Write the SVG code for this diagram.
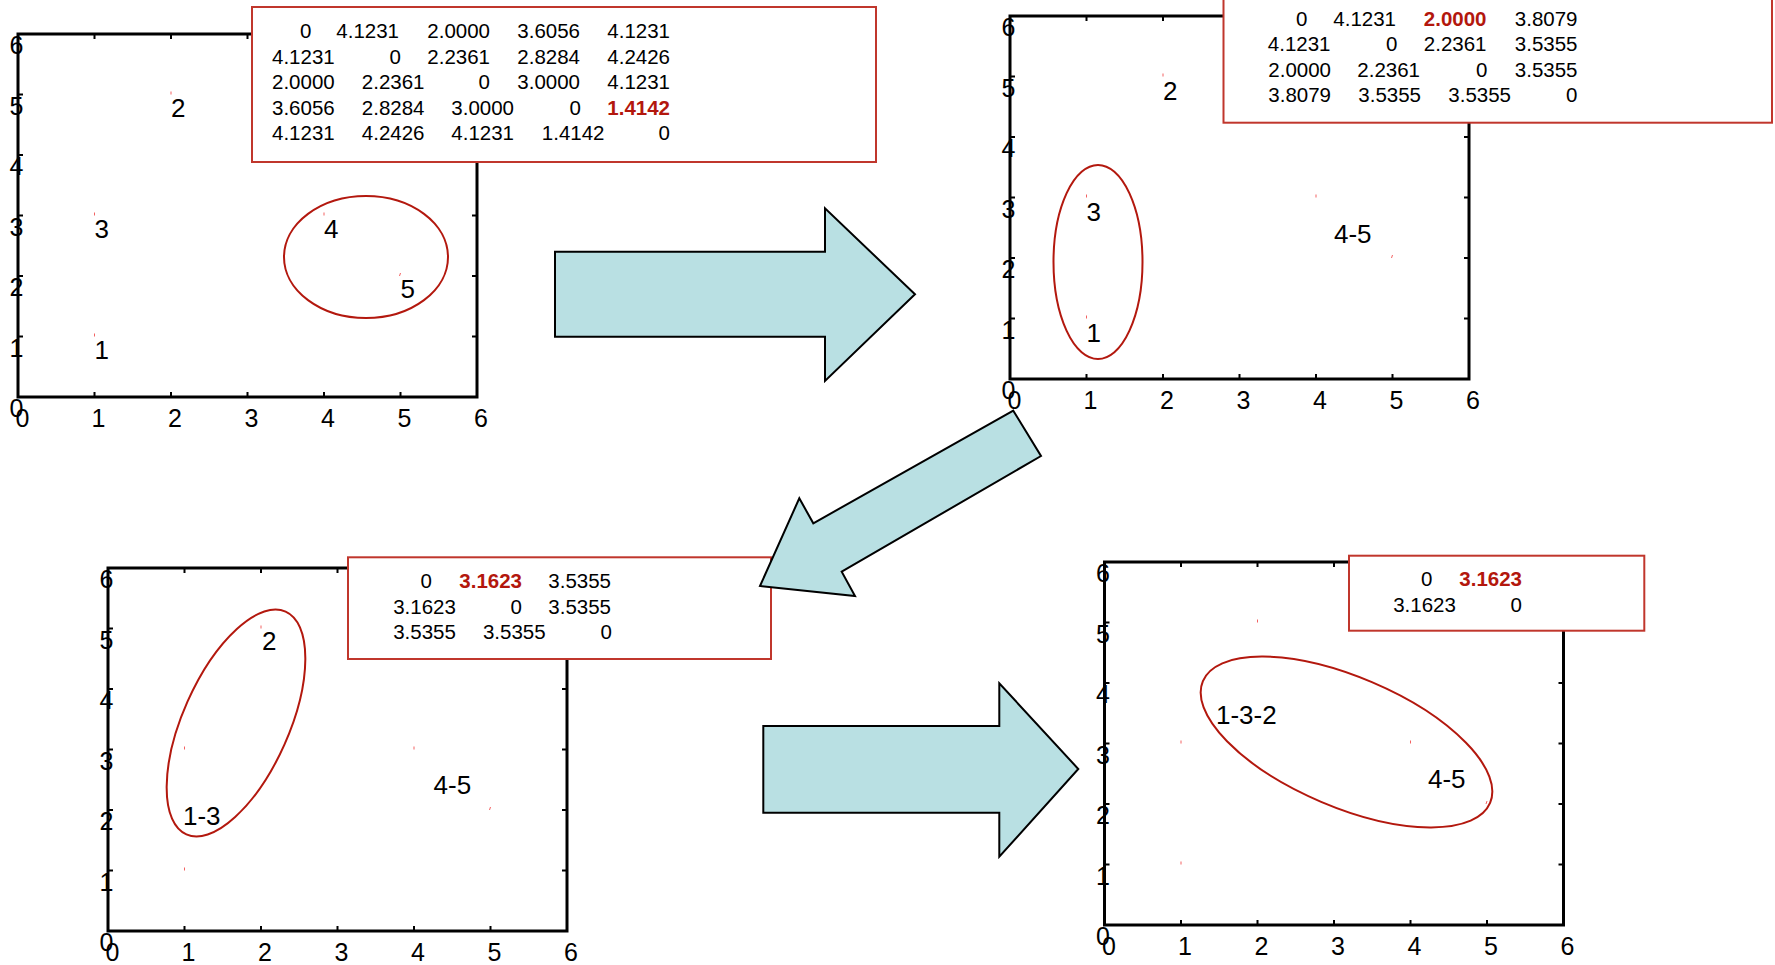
<svg xmlns="http://www.w3.org/2000/svg" xmlns:xlink="http://www.w3.org/1999/xlink" width="1775" height="965" viewBox="0 0 1775 965">
<style>
text{font-family:"Liberation Sans",Arial,sans-serif;fill:#000}
.ax{font-size:25px;text-anchor:middle}
.lbl{font-size:26px}
.frame{fill:none;stroke:#000;stroke-width:3}
.tick{fill:none;stroke:#000;stroke-width:2}
.pt{fill:none;stroke:#f03a3a;stroke-width:1;opacity:.8}
.ell{fill:none;stroke:#b3180e;stroke-width:2}
.box{fill:#fff;stroke:#c0362c;stroke-width:2}
.m{font-size:20.5px;text-anchor:end}
.hl{font-weight:bold;fill:#b3170d}
.arrow{fill:#b9e0e3;stroke:#000;stroke-width:2;stroke-linejoin:miter}
</style>
<defs>
<g id="axes">
<text class="ax" x="-1.5" y="383">0</text>
<text class="ax" x="-1.5" y="322.5">1</text>
<text class="ax" x="-1.5" y="262">2</text>
<text class="ax" x="-1.5" y="201.5">3</text>
<text class="ax" x="-1.5" y="141">4</text>
<text class="ax" x="-1.5" y="80.5">5</text>
<text class="ax" x="-1.5" y="20">6</text>
<text class="ax" x="4.5" y="393">0</text>
<text class="ax" x="80.5" y="393">1</text>
<text class="ax" x="157" y="393">2</text>
<text class="ax" x="233.5" y="393">3</text>
<text class="ax" x="310" y="393">4</text>
<text class="ax" x="386.5" y="393">5</text>
<text class="ax" x="463" y="393">6</text>
<path class="tick" d="M76.5 0v5M153 0v5M229.5 0v5M306 0v5M382.5 0v5M76.5 363v-5M153 363v-5M229.5 363v-5M306 363v-5M382.5 363v-5M0 302.5h5M0 242h5M0 181.5h5M0 121h5M0 60.5h5M459 302.5h-5M459 242h-5M459 181.5h-5M459 121h-5M459 60.5h-5"/>
<rect class="frame" x="0" y="0" width="459" height="363"/>
</g>
<path id="pts" class="pt" d="M153 57.5v3M76.5 178.5v3M76.5 299.5v3M306 178.5v3M382.5 239l-1 3"/>
</defs>

<g id="panel1">
<g transform="translate(18,34)">
<use xlink:href="#axes" href="#axes"/>
<use xlink:href="#pts" href="#pts"/>
<text class="lbl" x="153" y="82.5">2</text>
<text class="lbl" x="76.5" y="203.5">3</text>
<text class="lbl" x="76.5" y="324.5">1</text>
<text class="lbl" x="306" y="203.5">4</text>
<text class="lbl" x="382.5" y="264">5</text>
<ellipse class="ell" cx="348" cy="223" rx="82" ry="61"/>
</g>
<g id="matrix1">
<rect class="box" x="252" y="7" width="624" height="155"/>
<text class="m" x="311.4" y="38">0</text><text class="m" x="399" y="38">4.1231</text><text class="m" x="490" y="38">2.0000</text><text class="m" x="580" y="38">3.6056</text><text class="m" x="670" y="38">4.1231</text>
<text class="m" x="334.7" y="63.5">4.1231</text><text class="m" x="401" y="63.5">0</text><text class="m" x="490" y="63.5">2.2361</text><text class="m" x="580" y="63.5">2.8284</text><text class="m" x="670" y="63.5">4.2426</text>
<text class="m" x="334.7" y="89">2.0000</text><text class="m" x="424.5" y="89">2.2361</text><text class="m" x="490" y="89">0</text><text class="m" x="580" y="89">3.0000</text><text class="m" x="670" y="89">4.1231</text>
<text class="m" x="334.7" y="114.5">3.6056</text><text class="m" x="424.5" y="114.5">2.8284</text><text class="m" x="514" y="114.5">3.0000</text><text class="m" x="581" y="114.5">0</text><text class="m hl" x="670" y="114.5">1.4142</text>
<text class="m" x="334.7" y="140">4.1231</text><text class="m" x="424.5" y="140">4.2426</text><text class="m" x="514" y="140">4.1231</text><text class="m" x="604.5" y="140">1.4142</text><text class="m" x="670" y="140">0</text>
</g>
</g>

<g id="panel2">
<g transform="translate(1010,16)">
<use xlink:href="#axes" href="#axes"/>
<use xlink:href="#pts" href="#pts"/>
<text class="lbl" x="153" y="83.5">2</text>
<text class="lbl" x="76.5" y="204.5">3</text>
<text class="lbl" x="76.5" y="325.5">1</text>
<text class="lbl" x="324" y="227">4-5</text>
<ellipse class="ell" cx="88" cy="246" rx="44.5" ry="97"/>
</g>
<g id="matrix2">
<rect class="box" x="1223.5" y="-5" width="548.5" height="127.7"/>
<text class="m" x="1307.5" y="25.5">0</text><text class="m" x="1396" y="25.5">4.1231</text><text class="m hl" x="1486.5" y="25.5">2.0000</text><text class="m" x="1577.5" y="25.5">3.8079</text>
<text class="m" x="1330.5" y="51">4.1231</text><text class="m" x="1397.5" y="51">0</text><text class="m" x="1486.5" y="51">2.2361</text><text class="m" x="1577.5" y="51">3.5355</text>
<text class="m" x="1331" y="76.5">2.0000</text><text class="m" x="1420" y="76.5">2.2361</text><text class="m" x="1487.5" y="76.5">0</text><text class="m" x="1577.5" y="76.5">3.5355</text>
<text class="m" x="1331" y="102">3.8079</text><text class="m" x="1421" y="102">3.5355</text><text class="m" x="1511" y="102">3.5355</text><text class="m" x="1577.5" y="102">0</text>
</g>
</g>

<g id="panel3">
<g transform="translate(108,568)">
<use xlink:href="#axes" href="#axes"/>
<use xlink:href="#pts" href="#pts"/>
<text class="lbl" x="154" y="82">2</text>
<text class="lbl" x="75" y="257">1-3</text>
<text class="lbl" x="325.6" y="226">4-5</text>
<ellipse class="ell" cx="128" cy="155" rx="122" ry="53" transform="rotate(-66 128 155)"/>
</g>
<g id="matrix3">
<rect class="box" x="348" y="557.3" width="423" height="101.7"/>
<text class="m" x="431.8" y="588.3">0</text><text class="m hl" x="522" y="588.3">3.1623</text><text class="m" x="611" y="588.3">3.5355</text>
<text class="m" x="455.9" y="614">3.1623</text><text class="m" x="522" y="614">0</text><text class="m" x="611" y="614">3.5355</text>
<text class="m" x="455.9" y="639">3.5355</text><text class="m" x="545.6" y="639">3.5355</text><text class="m" x="612" y="639">0</text>
</g>
</g>

<g id="panel4">
<g transform="translate(1104.5,562)">
<use xlink:href="#axes" href="#axes"/>
<use xlink:href="#pts" href="#pts"/>
<text class="lbl" x="111.5" y="162">1-3-2</text>
<text class="lbl" x="323.5" y="226">4-5</text>
<ellipse class="ell" cx="242" cy="180" rx="156" ry="65" transform="rotate(23 242 180)"/>
</g>
<g id="matrix4">
<rect class="box" x="1349" y="555.7" width="295.3" height="75"/>
<text class="m" x="1432.4" y="585.7">0</text><text class="m hl" x="1522" y="585.7">3.1623</text>
<text class="m" x="1455.9" y="611.7">3.1623</text><text class="m" x="1522" y="611.7">0</text>
</g>
</g>

<g id="connectors">
<polygon id="arrow1" class="arrow" points="555,251.7 825,251.7 825,208.3 915,294.3 825,381 825,336.7 555,336.7"/>
<polygon id="arrow2" class="arrow" points="1013.3,410.7 1041,456 841.7,571.7 855,596 760,586 799.3,498.3 813.3,523.3"/>
<polygon id="arrow3" class="arrow" points="763.3,726 999.3,726 999.3,683.3 1078.3,769 999.3,856.7 999.3,812.7 763.3,812.7"/>
</g>
</svg>
